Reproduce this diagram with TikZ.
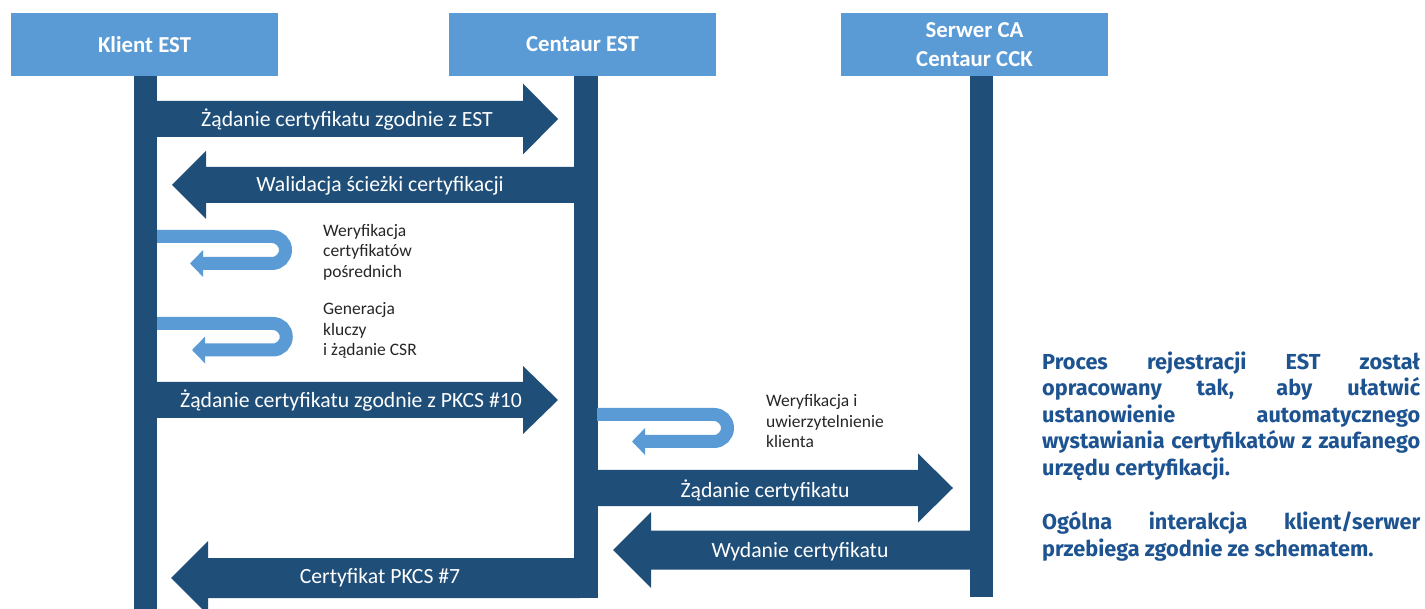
\documentclass[tikz,border=0pt]{standalone}
\usepackage{fontspec}
\setmainfont{Carlito}
\newfontfamily\plexfont{Fira Sans}
\usetikzlibrary{arrows.meta}
\definecolor{hdr}{HTML}{5B9BD5}
\definecolor{darkb}{HTML}{1F4E79}
\definecolor{loopc}{HTML}{5B9BD5}
\definecolor{txtblue}{HTML}{1D5390}
\definecolor{looptext}{HTML}{262626}
% x0, xbase, xtip, ycenter, body half, head half
\newcommand\blockarr[6]{\fill[barrow] (#1,#4-#5) -- (#2,#4-#5) -- (#2,#4-#6) -- (#3,#4) -- (#2,#4+#6) -- (#2,#4+#5) -- (#1,#4+#5) -- cycle;}
\begin{document}
\begin{tikzpicture}[x=1pt,y=-1pt,
  header/.style={fill=hdr, minimum width=267pt, minimum height=63pt, inner sep=0pt, text=white, font=\fontsize{22.8}{29}\selectfont\bfseries, align=center},
  life/.style={fill=darkb},
  barrow/.style={fill=darkb},
  blabel/.style={text=white, font=\fontsize{21.7}{25}\selectfont, inner sep=0pt},
  uloop/.style={draw=loopc, line width=13pt, -{Triangle[width=26pt,length=13pt]}},
  ltext/.style={text=looptext, font=\fontsize{17.5}{20.5}\selectfont, align=left, anchor=north west, inner sep=0pt},
  sidetext/.style={text=txtblue, font=\plexfont\bfseries\fontsize{21.7}{26.5}\selectfont, align=left, anchor=north west, inner sep=0pt}]
\useasboundingbox[fill=white] (0,0) rectangle (1425,609);
% headers
\node[header] (klient) at (144.5,44.5) {Klient EST};
\node[header] (centaur) at (582.5,44.5) {Centaur EST};
\node[header] (serwer) at (974.5,44.5) {Serwer CA\\Centaur CCK};
% lifelines
\fill[life] (134,76) rectangle (157,609);
\fill[life] (574,76) rectangle (598,598);
\fill[life] (970,76) rectangle (993,597);
% block arrows
\blockarr{150}{523}{558}{119}{18}{35.5}
\node[blabel] (m1) at (347,120) {Żądanie certyfikatu zgodnie z EST};
\blockarr{580}{206}{172}{185}{18}{34}
\node[blabel] (m2) at (380,186) {Walidacja ścieżki certyfikacji};
\blockarr{150}{523}{558}{400}{18}{34}
\node[blabel] (m3) at (351,401) {Żądanie certyfikatu zgodnie z PKCS \#10};
\blockarr{590}{918}{953}{488}{18}{34.5}
\node[blabel] (m4) at (765,490) {Żądanie certyfikatu};
\blockarr{975}{651}{613}{550}{19.5}{38}
\node[blabel] (m5) at (800,552) {Wydanie certyfikatu};
\blockarr{580}{208}{171}{578}{20}{37}
\node[blabel] (m6) at (380,578) {Certyfikat PKCS \#7};
% self loops
\coordinate (k1) at (157,236.5);
\coordinate (k1e) at (190,263.5);
\draw[uloop] (k1) -- (272,236.5) arc (-90:90:13.5) -- (k1e);
\coordinate (k2) at (157,323.5);
\coordinate (k2e) at (192,350);
\draw[uloop] (k2) -- (273,323.5) arc (-90:90:13.25) -- (k2e);
\coordinate (c1) at (597,414.5);
\coordinate (c1e) at (632,441.5);
\draw[uloop] (c1) -- (714,414.5) arc (-90:90:13.5) -- (c1e);
\node[ltext] (t1) at (323,224) {Weryfikacja\\certyfikatów\\pośrednich};
\node[ltext] (t2) at (323,302.5) {Generacja\\kluczy\\i żądanie CSR};
\node[ltext] (t3) at (766,394.5) {Weryfikacja i\\uwierzytelnienie\\klienta};
% side text
\node[sidetext] (s1) at (1042,351.5) {\makebox[378pt][s]{Proces rejestracji EST został}\\
\makebox[378pt][s]{opracowany tak, aby ułatwić}\\
\makebox[378pt][s]{ustanowienie automatycznego}\\
\makebox[378pt][s]{wystawiania certyfikatów z zaufanego}\\
urzędu certyfikacji.};
\node[sidetext] (s2) at (1042,511.5) {\makebox[378pt][s]{Ogólna interakcja klient/serwer}\\
przebiega zgodnie ze schematem.};
\end{tikzpicture}
\end{document}
